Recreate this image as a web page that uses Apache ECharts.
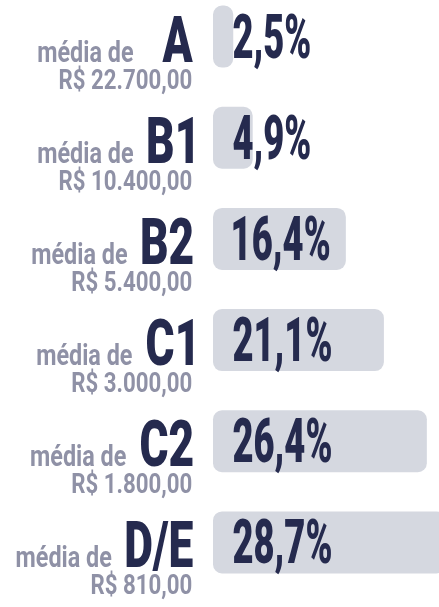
<!DOCTYPE html>
<html>
<head>
<meta charset="utf-8">
<script src="https://cdn.jsdelivr.net/npm/echarts@6/dist/echarts.min.js"></script>
<style>
  html, body { margin: 0; padding: 0; background: #fff; }
  #chart { width: 439px; height: 607px; }
</style>
</head>
<body>
<div id="chart"></div>
<script>
// classes sociais, participação (%) e renda média
const classes = ['A', 'B1', 'B2', 'C1', 'C2', 'D/E'];
const shares = [2.5, 4.9, 16.4, 21.1, 26.4, 28.7];
const incomes = [22700, 10400, 5400, 3000, 1800, 810];

const navy = '#252a4e';
const gray = '#8f91a6';
const barColor = '#d5d8e0';
const fontName = 'Roboto';

// mede a fonte para imitar o tipo condensado do original
const measureCtx = document.createElement('canvas').getContext('2d');
function fit (sample, capChar, cap, width, weight, color) {
  measureCtx.textAlign = 'left';
  measureCtx.textBaseline = 'alphabetic';
  measureCtx.font = weight + ' 100px ' + fontName;
  const size = cap / (measureCtx.measureText(capChar).actualBoundingBoxAscent / 100);
  measureCtx.font = weight + ' ' + size + 'px ' + fontName;
  const m = measureCtx.measureText(sample);
  const sx = width / (m.actualBoundingBoxLeft + m.actualBoundingBoxRight);
  measureCtx.textBaseline = 'middle';
  const mid = measureCtx.measureText('H').actualBoundingBoxDescent;
  return { size: size, sx: sx, mid: mid, weight: weight, color: color };
}
// extensão da tinta em relação ao ponto de ancoragem
function ink (text, st, align) {
  measureCtx.textAlign = align;
  measureCtx.textBaseline = 'alphabetic';
  measureCtx.font = st.weight + ' ' + st.size + 'px ' + fontName;
  const m = measureCtx.measureText(text);
  return { left: m.actualBoundingBoxLeft * st.sx, right: m.actualBoundingBoxRight * st.sx };
}

const pctStyle = fit('21,1%', 'H', 44, 98, 900, navy);
const letterStyle = fit('B2', 'H', 47, 51, 900, navy);
const mediaStyle = fit('média de', 'd', 22, 95, 'bold', gray);
const moneyStyle = fit('R$ 3.000,00', 'H', 20.5, 120, 'bold', gray);

function pct (v) {
  return v.toFixed(1).replace('.', ',') + '%';
}

function brl (v) {
  const parts = v.toFixed(2).split('.');
  return 'R$ ' + parts[0].replace(/\B(?=(\d{3})+(?!\d))/g, '.') + ',' + parts[1];
}

function txt (x, baseline, text, st, align) {
  return {
    type: 'text',
    x: x,
    y: baseline - st.mid,
    scaleX: st.sx,
    style: {
      text: text,
      fontSize: st.size,
      fontWeight: st.weight,
      fontFamily: fontName,
      fill: st.color,
      align: align,
      verticalAlign: 'middle'
    }
  };
}

function renderLabels (params, api) {
  const i = api.value(1);
  const origin = api.coord([0, i]);
  const x0 = origin[0];
  const yc = origin[1];
  const label = pct(api.value(0));
  const money = brl(incomes[i]);

  const pctInk = ink(label, pctStyle, 'left');
  const letterInk = ink(classes[i], letterStyle, 'right');
  const mediaInk = ink('média de', mediaStyle, 'right');
  const moneyInk = ink(money, moneyStyle, 'right');

  const letterX = x0 - 20 - letterInk.right;
  const letterLeft = letterX - letterInk.left;
  const mediaEdge = Math.min(letterLeft - 15, x0 - 80);

  return {
    type: 'group',
    children: [
      txt(x0 + 20 + pctInk.left, yc + 21, label, pctStyle, 'left'),
      txt(letterX, yc + 25, classes[i], letterStyle, 'right'),
      txt(mediaEdge - mediaInk.right, yc + 25, 'média de', mediaStyle, 'right'),
      txt(x0 - 21 - moneyInk.right, yc + 52, money, moneyStyle, 'right')
    ]
  };
}

const chart = echarts.init(document.getElementById('chart'));
chart.setOption({
  animation: false,
  backgroundColor: '#fff',
  grid: { left: 213, top: -14, width: 243, height: 607, outerBoundsMode: 'none' },
  xAxis: { type: 'value', min: 0, max: 30, show: false },
  yAxis: { type: 'category', data: classes, inverse: true, show: false },
  series: [
    {
      type: 'bar',
      data: shares,
      barWidth: 62,
      silent: true,
      itemStyle: { color: barColor, borderRadius: 9 }
    },
    {
      type: 'custom',
      silent: true,
      encode: { x: 0, y: 1 },
      data: shares.map((v, i) => [v, i]),
      renderItem: renderLabels,
      z: 3
    }
  ]
});
</script>
</body>
</html>
